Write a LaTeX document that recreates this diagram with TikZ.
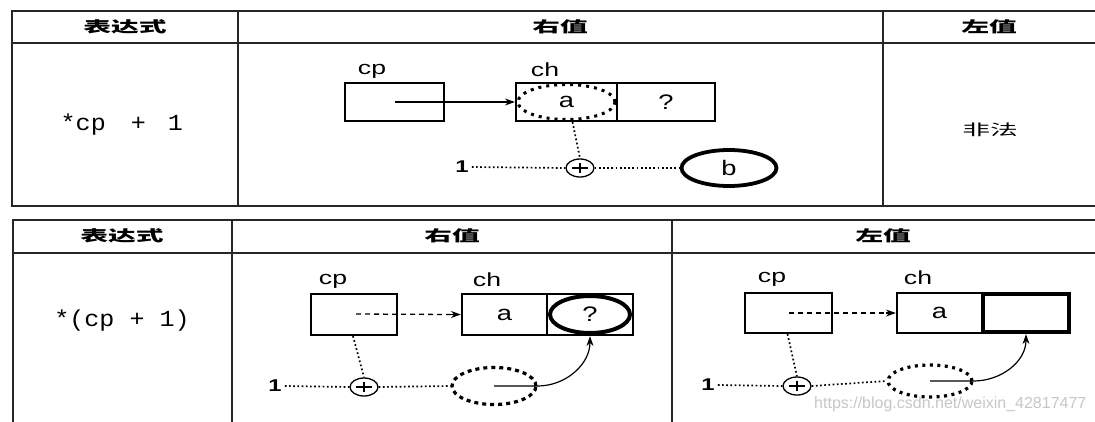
\documentclass[tikz,border=0pt]{standalone}
\usepackage{fontspec}
\setmainfont{Liberation Sans}
\newfontfamily\cjk[FakeStretch=1.85]{Noto Sans CJK SC}
\newfontfamily\monof[FakeStretch=1.09]{Liberation Mono}
\newfontfamily\labf[FakeStretch=1.4]{Liberation Sans}
\newfontfamily\cellf[FakeStretch=1.3]{Liberation Sans}
\usetikzlibrary{arrows.meta,shapes.geometric,calc}
\begin{document}
\begin{tikzpicture}[x=1pt,y=-1pt,
  grid/.style={line width=1.8pt,black!85},
  hdr/.style={font=\cjk\bfseries\fontsize{15}{15}\selectfont,inner sep=0},
  txt/.style={font=\cjk\fontsize{15}{15}\selectfont,inner sep=0},
  code/.style={font=\monof\fontsize{23}{23}\selectfont,inner sep=0},
  lab/.style={font=\labf\fontsize{19}{19}\selectfont,inner sep=0},
  one/.style={font=\labf\bfseries\fontsize{17}{17}\selectfont,inner sep=0},
  cellbox/.style={draw,line width=2.2pt,rectangle,inner sep=0,font=\cellf\fontsize{21}{21}\selectfont},
  celltxt/.style={font=\cellf\fontsize{21}{21}\selectfont},
  plusnode/.style={ellipse,draw,line width=1.3pt,minimum width=28pt,minimum height=18pt,inner sep=0,
    path picture={\draw[line width=1.6pt] ($(path picture bounding box.center)+(-8,0)$) -- ($(path picture bounding box.center)+(8,0)$);
                  \draw[line width=1.6pt] ($(path picture bounding box.center)+(0,-5)$) -- ($(path picture bounding box.center)+(0,5)$);}},
  dotline/.style={line width=1.7pt,dash pattern=on 1.7pt off 2.5pt},
  dashline/.style={line width=1.3pt,dash pattern=on 5pt off 4pt},
  arr/.style={line width=1.2pt,-{Stealth[length=10pt,width=7pt]}},
]
\useasboundingbox (0,0) rectangle (1095,421);
\fill[white] (0,0) rectangle (1095,421);

% ---------- top table ----------
\draw[grid] (1100,11) -- (12,11) -- (12,206) -- (1100,206);
\draw[grid] (12,43) -- (1100,43);
\draw[grid] (238,11) -- (238,206);
\draw[grid] (883,11) -- (883,206);
\node[hdr] (h1) at (125,27) {表达式};
\node[hdr] (h2) at (560,27) {右值};
\node[hdr] (h3) at (989,27) {左值};
\node[code,anchor=base west] (e1) at (60.5,130) {*cp\hspace{25pt}+\hspace{22pt}1};
\node[txt] (ill) at (990,130) {非法};

\node[cellbox,minimum width=99pt,minimum height=38pt] (cp1) at (394.5,102) {};
\node[lab] (cp1l) at (372,71) {cp};
\node[cellbox,minimum width=101pt,minimum height=38pt] (ch1a) at (566.5,102) {a};
\node[cellbox,minimum width=98pt,minimum height=38pt] (ch1q) at (666,102) {?};
\node[lab] (ch1l) at (545,70) {ch};
\node[ellipse,draw,line width=3pt,dash pattern=on 3pt off 5pt,minimum width=97pt,minimum height=35pt] (ch1e) at (ch1a.center) {};
\coordinate (cp1s) at (395,102);
\draw[arr] (cp1s) -- (ch1a.west);
\node[plusnode] (p1) at (580,168) {};
\node[one] (one1) at (462,167) {1};
\draw[dotline] ($(ch1a.south)+(6,0)$) -- (p1.north);
\draw[dotline] (one1.east) ++(3,0) -- (p1.west);
\node[ellipse,draw,line width=3.8pt,minimum width=95pt,minimum height=36pt,celltxt] (b1) at (729,168) {b};
\draw[dotline] (p1.east) -- (b1.west);

% ---------- bottom table ----------
\draw[grid] (1100,220) -- (13,220) -- (13,425);
\draw[grid] (13,253) -- (1100,253);
\draw[grid] (232,220) -- (232,425);
\draw[grid] (672,220) -- (672,425);
\node[hdr] (h4) at (122,236) {表达式};
\node[hdr] (h5) at (452,236) {右值};
\node[hdr] (h6) at (883,236) {左值};
\node[code,anchor=base] (e2) at (122,326) {*(cp + 1)};

% middle
\node[cellbox,minimum width=86pt,minimum height=41pt] (cp2) at (354,314.5) {};
\node[lab] (cp2l) at (333,281) {cp};
\node[cellbox,minimum width=85pt,minimum height=41pt] (ch2a) at (504.5,314.5) {a};
\node[cellbox,minimum width=86pt,minimum height=41pt] (ch2q) at (590,314.5) {};
\node[lab] (ch2l) at (487,280) {ch};
\node[ellipse,draw,line width=4pt,minimum width=80pt,minimum height=37pt,celltxt] (q2) at (ch2q.center) {?};
\coordinate (cp2s) at (356,314);
\draw[dashline] (cp2s) -- ($(ch2a.west)+(-8,0)$);
\draw[arr] ($(ch2a.west)+(-10,0)$) -- (ch2a.west);
\node[plusnode] (p2) at (364,387) {};
\node[one] (one2) at (275,386) {1};
\draw[dotline] ($(cp2.south)+(-1,0)$) -- (p2.north);
\draw[dotline] (one2.east) ++(3,0) -- (p2.west);
\node[ellipse,draw,line width=3.2pt,dash pattern=on 4pt off 4pt,minimum width=84pt,minimum height=37pt] (r2) at (494,386) {};
\draw[dotline] (p2.east) -- (r2.west);
\draw[arr] (r2.center) -- (r2.east) to[out=0,in=-90] (ch2q.south);

% right
\node[cellbox,minimum width=87pt,minimum height=40pt] (cp3) at (788.5,313) {};
\node[lab] (cp3l) at (772,279) {cp};
\node[cellbox,minimum width=85pt,minimum height=40pt] (ch3a) at (939.5,313) {a};
\node[cellbox,line width=4.2pt,minimum width=86pt,minimum height=38pt] (ch3q) at (1026,313) {};
\node[lab] (ch3l) at (918,278) {ch};
\coordinate (cp3s) at (789,313);
\draw[dashline] (cp3s) -- ($(ch3a.west)+(-8,0)$);
\draw[arr] ($(ch3a.west)+(-10,0)$) -- (ch3a.west);
\node[plusnode] (p3) at (797,386) {};
\node[one] (one3) at (708,385) {1};
\draw[dotline] ($(cp3.south)+(-1,0)$) -- (p3.north);
\draw[dotline] (one3.east) ++(3,0) -- (p3.west);
\node[ellipse,draw,line width=3.2pt,dash pattern=on 3pt off 4.5pt,minimum width=84pt,minimum height=32pt] (r3) at (930,381) {};
\draw[dotline] (p3.east) -- (r3.west);
\draw[arr] (r3.center) -- (r3.east) to[out=0,in=-90] (ch3q.south);

% watermark
\node[anchor=base west,inner sep=0,text=black!22,font=\fontsize{16}{16}\selectfont] (wm) at (814,408) {https://blog.csdn.net/weixin\_42817477};
\end{tikzpicture}
\end{document}
